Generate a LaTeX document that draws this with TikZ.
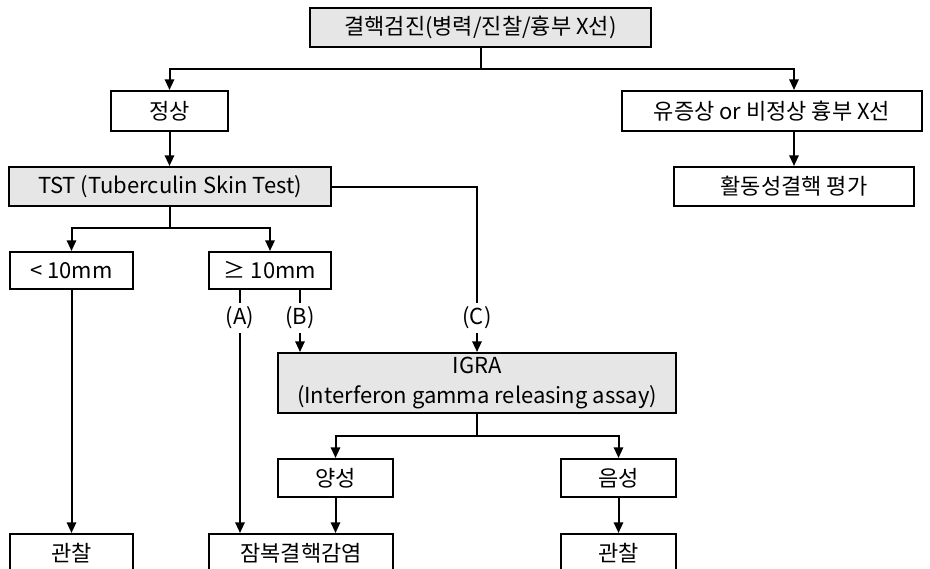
\documentclass[tikz,border=0pt]{standalone}
\usepackage{fontspec}
\setmainfont{Noto Sans CJK KR}
\usetikzlibrary{arrows.meta}
\newdimen\unitpx \unitpx=0.75pt
\definecolor{boxgray}{HTML}{E6E6E6}
\tikzset{x=0.75pt, y=-0.75pt,
    every node/.style={font=\fontsize{16.5}{22.5}\selectfont},
    box/.style={draw, line width=1.5pt, inner sep=0pt, align=center},
    graybox/.style={box, fill=boxgray},
    branchlabel/.style={inner sep=0pt, minimum height=30\unitpx},
    arr/.style={line width=1.5pt, -{Triangle[width=7pt,length=8pt]}},
    conn/.style={line width=1.5pt},
    }

\begin{document}
\begin{tikzpicture}
\useasboundingbox (0,0) rectangle (930,568);
\clip (0,0) rectangle (930,568);
% boxes
\node[graybox, minimum width=341\unitpx, minimum height=39\unitpx] (exam) at (480.5,27.5) {결핵검진(병력/진찰/흉부 X선)};
\node[box, minimum width=117\unitpx, minimum height=40\unitpx] (normal) at (169.5,111) {정상};
\node[box, minimum width=300\unitpx, minimum height=40\unitpx] (symp) at (772,111) {유증상 or 비정상 흉부 X선};
\node[graybox, minimum width=322\unitpx, minimum height=39\unitpx] (tst) at (170,186.5) {TST (Tuberculin Skin Test)};
\node[box, minimum width=240\unitpx, minimum height=39\unitpx] (active) at (794,186.5) {활동성결핵 평가};
\node[box, minimum width=123\unitpx, minimum height=37\unitpx] (lt) at (71.5,270.5) {< 10mm};
\node[box, minimum width=122\unitpx, minimum height=37\unitpx] (ge) at (270,270.5) {≥ 10mm};
\node[graybox, minimum width=398\unitpx, minimum height=60\unitpx] (igra) at (477,383) {IGRA\\(Interferon gamma releasing assay)};
\node[box, minimum width=115\unitpx, minimum height=38\unitpx] (pos) at (335.5,478) {양성};
\node[box, minimum width=115\unitpx, minimum height=38\unitpx] (neg) at (618.5,478) {음성};
\node[box, minimum width=123\unitpx, minimum height=38\unitpx] (obsL) at (71.5,553) {관찰};
\node[box, minimum width=184\unitpx, minimum height=38\unitpx] (ltbi) at (301,553) {잠복결핵감염};
\node[box, minimum width=115\unitpx, minimum height=38\unitpx] (obsR) at (618.5,553) {관찰};
% path labels
\node[branchlabel] (labA) at (240,318) {(A)};
\node[branchlabel] (labB) at (300,318) {(B)};
\node[branchlabel] (labC) at (477,318) {(C)};
\coordinate (b1) at (480.5,69);
\coordinate (b2) at (170,228);
\coordinate (b3) at (477,436);
% connectors
\draw[conn] (exam.south) -- (b1);
\draw[arr] (b1) -| (normal.north);
\draw[arr] (b1) -| (active.north |- symp.north);
\draw[arr] (active.north |- symp.south) -- (active.north);
\draw[arr] (normal.south) -- (normal.south |- tst.north);
\draw[conn] (tst.south) -- (b2);
\draw[arr] (b2) -| (lt.north);
\draw[arr] (b2) -| (ge.north);
\draw[conn] (tst.east) -| (labC.north);
\draw[arr] (labC.south) -- (labC.south |- igra.north);% (C)
\draw[conn] (labA.north |- ge.south) -- (labA.north);
\draw[arr] (labA.south) -- (labA.south |- ltbi.north);% (A)
\draw[conn] (labB.north |- ge.south) -- (labB.north);
\draw[arr] (labB.south) -- (labB.south |- igra.north);% (B)
\draw[arr] (lt.south) -- (obsL.north);
\draw[conn] (igra.south) -- (b3);
\draw[arr] (b3) -| (pos.north);
\draw[arr] (b3) -| (neg.north);
\draw[arr] (pos.south) -- (pos.south |- ltbi.north);
\draw[arr] (neg.south) -- (obsR.north);
\end{tikzpicture}
\end{document}
